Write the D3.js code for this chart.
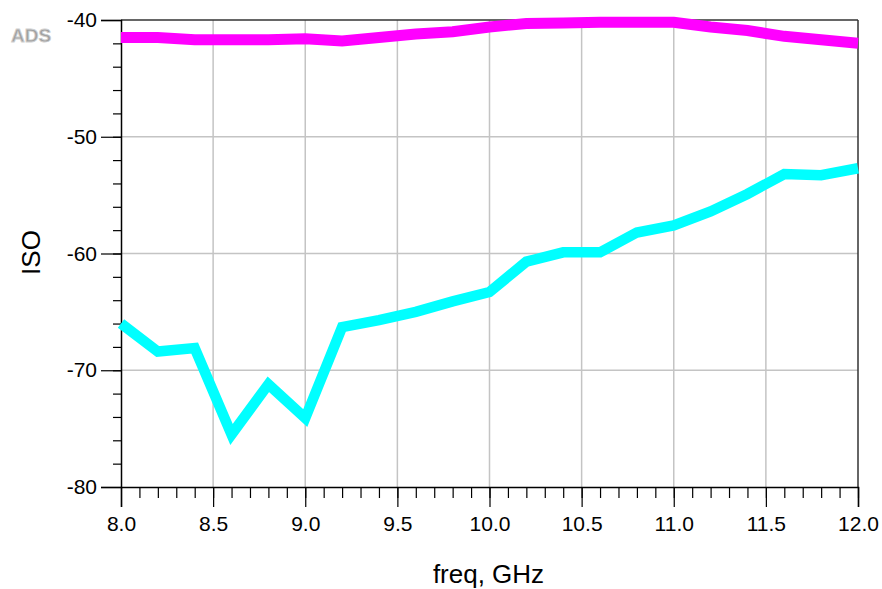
<!DOCTYPE html>
<html>
<head>
<meta charset="utf-8">
<script src="https://cdn.jsdelivr.net/npm/d3@7"></script>
<style>
  body { margin: 0; background: #fff; }
  svg text { font-family: "Liberation Sans", Arial, sans-serif; }
</style>
</head>
<body>
<div id="chart"></div>
<script>
// frequency points, GHz
var freq = [8.0, 8.2, 8.4, 8.6, 8.8, 9.0, 9.2, 9.4, 9.6, 9.8, 10.0,
            10.2, 10.4, 10.6, 10.8, 11.0, 11.2, 11.4, 11.6, 11.8, 12.0];
// isolation, dB
var isoMagenta = [-41.5, -41.5, -41.7, -41.7, -41.7, -41.6, -41.8, -41.5, -41.2, -41.0, -40.6,
                  -40.3, -40.25, -40.2, -40.2, -40.2, -40.6, -40.9, -41.4, -41.7, -42.0];
var isoCyan = [-66.0, -68.4, -68.1, -75.5, -71.2, -74.1, -66.3, -65.7, -65.0, -64.1, -63.3,
               -60.7, -59.9, -59.9, -58.2, -57.6, -56.4, -54.9, -53.2, -53.3, -52.7];
var xTicks = [8.0, 8.5, 9.0, 9.5, 10.0, 10.5, 11.0, 11.5, 12.0];
var yTicks = [-80, -70, -60, -50, -40];

var WIDTH = 882, HEIGHT = 589;
var margin = {left: 121, right: 24, top: 20, bottom: 102};
var W = WIDTH - margin.left - margin.right,
    H = HEIGHT - margin.top - margin.bottom;

var svg = d3.select("#chart").append("svg")
    .attr("width", WIDTH)
    .attr("height", HEIGHT);

var x = d3.scaleLinear().domain([8, 12]).range([0, W]);
var y = d3.scaleLinear().domain([-80, -40]).range([H, 0]);

var g = svg.append("g").attr("transform", "translate(" + margin.left + "," + margin.top + ")");

// grid
g.append("g").selectAll("line.vg")
    .data(xTicks.slice(1, -1)).enter().append("line")
    .attr("x1", function (d) { return x(d); })
    .attr("x2", function (d) { return x(d); })
    .attr("y1", 0).attr("y2", H)
    .attr("stroke", "#c4c4c4").attr("stroke-width", 1.5);
g.append("g").selectAll("line.hg")
    .data(yTicks.slice(1, -1)).enter().append("line")
    .attr("y1", function (d) { return y(d); })
    .attr("y2", function (d) { return y(d); })
    .attr("x1", 0).attr("x2", W)
    .attr("stroke", "#c4c4c4").attr("stroke-width", 1.5);

// top and right frame
g.append("line").attr("x1", 0).attr("x2", W).attr("y1", 0).attr("y2", 0)
    .attr("stroke", "#333").attr("stroke-width", 1.5);
g.append("line").attr("x1", W).attr("x2", W).attr("y1", 0).attr("y2", H)
    .attr("stroke", "#333").attr("stroke-width", 1.5);

// minor ticks
var xMinor = d3.axisBottom(x).tickValues(d3.range(81, 121).map(function (v) { return v / 10; }))
    .tickSize(11).tickFormat("");
g.append("g").attr("transform", "translate(0," + H + ")").call(xMinor)
    .call(function (s) { s.select(".domain").remove(); });
var yMinor = d3.axisLeft(y).tickValues(d3.range(-78, -40, 2)).tickSize(8).tickFormat("");
g.append("g").call(yMinor).call(function (s) { s.select(".domain").remove(); });

// major axes
var xAxis = d3.axisBottom(x).tickValues(xTicks).tickSize(20).tickPadding(9)
    .tickFormat(d3.format(".1f"));
var gx = g.append("g").attr("transform", "translate(0," + H + ")").call(xAxis);
gx.selectAll("text").attr("font-size", 21).attr("fill", "#000").attr("font-family", "Liberation Sans, Arial, sans-serif");

var yAxis = d3.axisLeft(y).tickValues(yTicks).tickSize(20).tickPadding(4)
    .tickFormat(function (d) { return d.toString(); });
var gy = g.append("g").call(yAxis);
gy.selectAll("text").attr("font-size", 21).attr("fill", "#000").attr("font-family", "Liberation Sans, Arial, sans-serif");

g.selectAll(".domain").attr("stroke", "#000").attr("stroke-width", 1.5);
g.selectAll(".tick line").attr("stroke", "#000").attr("stroke-width", 1.2);

// traces
var line = d3.line()
    .x(function (d, i) { return x(freq[i]); })
    .y(function (d) { return y(d); });

var plot = g.append("g");
plot.append("path").datum(isoMagenta)
    .attr("d", line).attr("fill", "none")
    .attr("stroke", "#ff00ff").attr("stroke-width", 11);
plot.append("path").datum(isoCyan)
    .attr("d", line).attr("fill", "none")
    .attr("stroke", "#00ffff").attr("stroke-width", 10.5);

// labels
svg.append("text")
    .attr("x", margin.left + W / 2 - 1).attr("y", 583)
    .attr("text-anchor", "middle").attr("font-size", 26)
    .text("freq, GHz");
svg.append("text")
    .attr("transform", "translate(40," + (margin.top + H / 2 - 1) + ")rotate(-90)")
    .attr("text-anchor", "middle").attr("font-size", 26)
    .text("ISO");
svg.append("text")
    .attr("x", 11).attr("y", 42)
    .attr("font-size", 19).attr("font-weight", "bold")
    .attr("fill", "#a0a0a0")
    .attr("stroke", "#d0d0d0").attr("stroke-width", 0.8)
    .text("ADS");
</script>
</body>
</html>
